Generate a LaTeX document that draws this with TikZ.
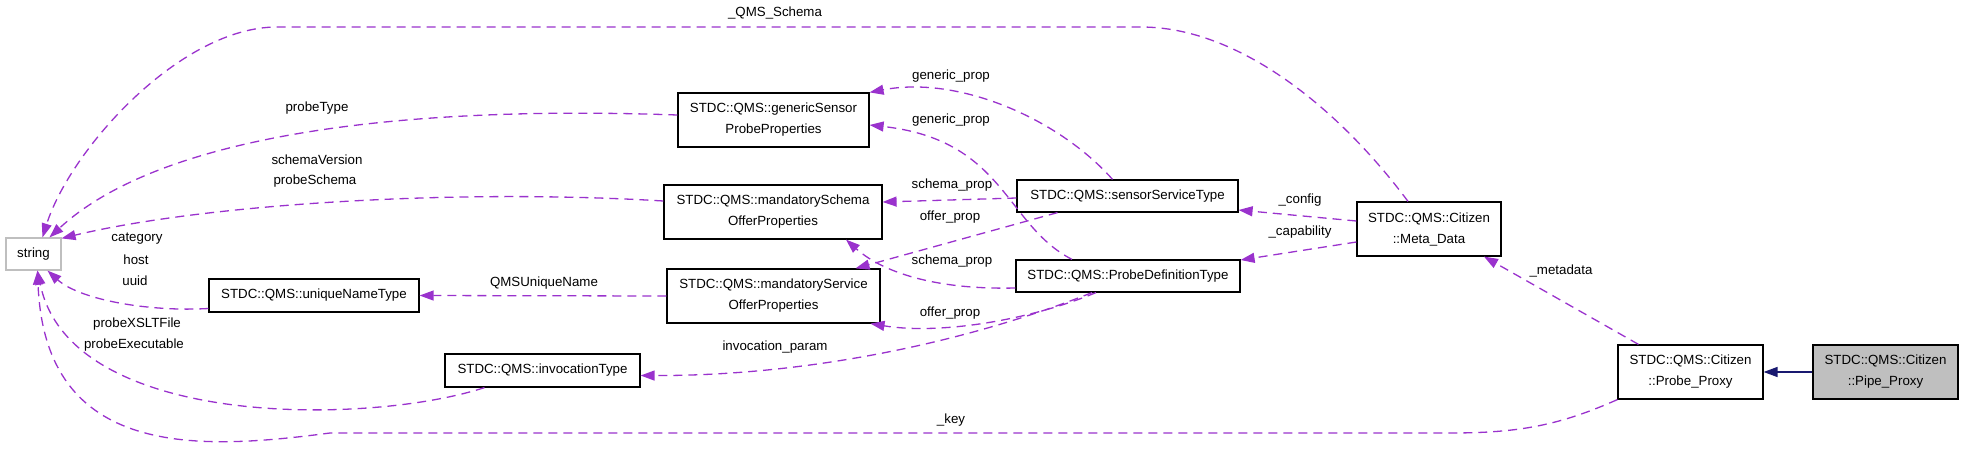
\documentclass[tikz,border=0pt]{standalone}
\usepackage{fontspec}
\setmainfont{Liberation Sans}
\usetikzlibrary{arrows.meta,calc}
\definecolor{depc}{HTML}{9A32CD}
\definecolor{inhc}{HTML}{191970}
\definecolor{boxgray}{HTML}{BFBFBF}
\begin{document}
\begin{tikzpicture}[x=1pt,y=-1pt,
 every node/.style={font=\fontsize{13.3}{21}\selectfont, inner sep=0pt},
 cls/.style={draw=black, line width=1.2pt, align=center},
 depline/.style={draw=depc, line width=1.3pt, dash pattern=on 9pt off 6pt,
   -{Triangle[length=14pt,width=10pt,fill=depc]}},
 inhline/.style={draw=inhc, line width=1.5pt, -{Triangle[length=14pt,width=10pt,fill=inhc]}}]
\useasboundingbox (0,0) rectangle (1963,448);
% nodes
\node[cls, draw=boxgray, minimum width=55pt, minimum height=32pt] (str) at (33.5,254) {string};
\node[cls, minimum width=210pt, minimum height=33pt] (uniq) at (314,295.5) {STDC::QMS::uniqueNameType};
\node[cls, minimum width=195pt, minimum height=33pt] (invoc) at (542.5,370.5) {STDC::QMS::invocationType};
\node[cls, minimum width=191pt, minimum height=54pt] (gsp) at (773.5,120) {STDC::QMS::genericSensor\\ProbeProperties};
\node[cls, minimum width=218pt, minimum height=54pt] (mso) at (773,212) {STDC::QMS::mandatorySchema\\OfferProperties};
\node[cls, minimum width=213pt, minimum height=54pt] (msvc) at (773.5,296) {STDC::QMS::mandatoryService\\OfferProperties};
\node[cls, minimum width=221pt, minimum height=32pt] (sst) at (1127.5,196) {STDC::QMS::sensorServiceType};
\node[cls, minimum width=224pt, minimum height=32pt] (pdt) at (1128,276) {STDC::QMS::ProbeDefinitionType};
\node[cls, minimum width=144pt, minimum height=54pt] (meta) at (1429,229) {STDC::QMS::Citizen\\::Meta\_Data};
\node[cls, minimum width=145pt, minimum height=54pt] (probe) at (1690.5,372) {STDC::QMS::Citizen\\::Probe\_Proxy};
\node[cls, fill=boxgray, minimum width=145pt, minimum height=54pt] (pipe) at (1885.5,372) {STDC::QMS::Citizen\\::Pipe\_Proxy};
% connectors
\draw[depline] ($(meta.north)+(-21,0)$) .. controls (1340,110) and (1240,27) .. (1141,27) -- (277,27) .. controls (180,27) and (70,150) .. ($(str.north)+(9,0)$);
\draw[depline] ($(gsp.west)+(0,-5)$) .. controls (400,105) and (160,135) .. ($(str.north)+(16,0)$);
\draw[depline] ($(mso.west)+(0,-11)$) .. controls (450,188) and (200,205) .. ($(str.north east)+(0,1)$);
\draw[depline] ($(uniq.west)+(0,13)$) .. controls (150,312) and (80,300) .. ($(str.south)+(14,0)$);
\draw[depline] (msvc.west) -- (uniq.east);
\draw[depline] ($(invoc.south)+(-58,0)$) .. controls (370,425) and (70,430) .. ($(str.south)+(4,0)$);
\draw[depline] (probe.south west) .. controls (1560,425) and (1520,433) .. (1450,433) -- (330,433) .. controls (200,450) and (45,460) .. ($(str.south)+(4,0)$);
\draw[depline] ($(sst.north)+(-15,0)$) .. controls (1060,120) and (960,75) .. (gsp.north east);
\draw[depline] ($(pdt.north)+(-56,0)$) .. controls (1005,225) and (1005,140) .. ($(gsp.east)+(0,5)$);
\draw[depline] ($(sst.west)+(0,2)$) -- ($(mso.east)+(0,-10)$);
\draw[depline] ($(sst.south)+(-70,0)$) -- ($(msvc.north)+(82,0)$);
\draw[depline] ($(pdt.west)+(0,12)$) .. controls (930,290) and (880,270) .. ($(mso.south)+(73,0)$);
\draw[depline] ($(pdt.south)+(-32,0)$) .. controls (1030,320) and (940,335) .. ($(msvc.south)+(97,0)$);
\draw[depline] ($(pdt.south)+(-36,0)$) .. controls (960,345) and (800,376) .. ($(invoc.east)+(0,5)$);
\draw[depline] ($(meta.west)+(0,-8)$) -- ($(sst.east)+(0,14)$);
\draw[depline] ($(meta.west)+(0,13)$) -- ($(pdt.east)+(0,-16)$);
\draw[depline] ($(probe.north)+(-52,0)$) -- ($(meta.south)+(55,0)$);
\draw[inhline] (pipe.west) -- (probe.east);
% labels
\node (lqms) at (775,13) {\_QMS\_Schema};
\node (lpt) at (317,108) {probeType};
\node (lsv) at (317,160) {schemaVersion};
\node (lps) at (315,181) {probeSchema};
\node (lcat) at (137,239) {category};
\node (lhost) at (136,260) {host};
\node (luuid) at (135,281) {uuid};
\node (lxslt) at (137,324) {probeXSLTFile};
\node (lexe) at (134,345) {probeExecutable};
\node (lqun) at (544,283) {QMSUniqueName};
\node (lgp1) at (951,76) {generic\_prop};
\node (lgp2) at (951,120) {generic\_prop};
\node (lsp1) at (952,185) {schema\_prop};
\node (lop1) at (950,217) {offer\_prop};
\node (lsp2) at (952,261) {schema\_prop};
\node (lop2) at (950,313) {offer\_prop};
\node (linv) at (775,347) {invocation\_param};
\node (lkey) at (951,420) {\_key};
\node (lcfg) at (1300,200) {\_config};
\node (lcap) at (1300,232) {\_capability};
\node (lmd) at (1561,271) {\_metadata};
\end{tikzpicture}
\end{document}
